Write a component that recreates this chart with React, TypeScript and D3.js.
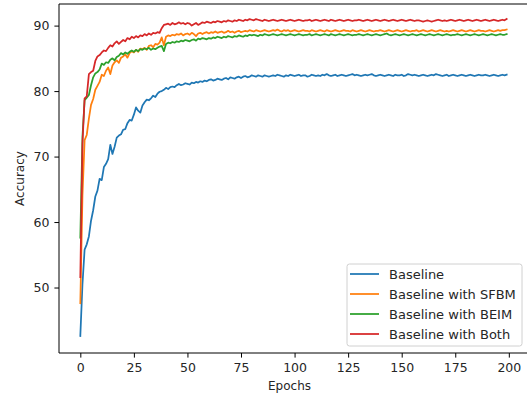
import React, { useEffect, useRef } from "react";
import * as d3 from "d3";

const seriesNames = ["Baseline", "Baseline with SFBM", "Baseline with BEIM", "Baseline with Both"];
const seriesColors = ["#1f77b4", "#ff7f0e", "#2ca02c", "#d62728"];
const xTicks = [0, 25, 50, 75, 100, 125, 150, 175, 200];
const yTicks = [50, 60, 70, 80, 90];

const baseline = [
  42.6, 50.5, 55.8, 56.6, 57.8, 60.2, 61.8, 63.9, 64.8, 66.6,
  66.4, 68.4, 68.9, 69.6, 71.8, 70.4, 71.5, 72.9, 73.2, 73.4,
  74.1, 74.2, 75.1, 75.6, 75.5, 76.4, 77.5, 77.0, 76.7, 77.8,
  78.3, 78.7, 78.6, 78.9, 79.3, 79.1, 79.6, 79.9, 80.0, 80.2,
  80.5, 80.3, 80.6, 80.7, 80.6, 80.9, 81.1, 80.9, 81.0, 81.2,
  81.1, 81.0, 81.3, 81.2, 81.4, 81.3, 81.5, 81.4, 81.6, 81.5,
  81.7, 81.8, 81.6, 81.7, 81.9, 81.8, 81.7, 81.9, 82.0, 81.8,
  82.1, 82.0, 81.9, 82.1, 82.2, 82.0, 82.2, 82.3, 82.1, 82.2,
  82.4, 82.3, 82.2, 82.4, 82.3, 82.2, 82.4, 82.3, 82.2, 82.3,
  82.4, 82.3, 82.5, 82.4, 82.3, 82.2, 82.4, 82.3, 82.5, 82.4,
  82.3, 82.4, 82.5, 82.3, 82.4, 82.4, 82.2, 82.3, 82.5, 82.4,
  82.3, 82.4, 82.3, 82.5, 82.4, 82.6, 82.4, 82.3, 82.4, 82.5,
  82.3, 82.4, 82.5, 82.4, 82.3, 82.4, 82.5, 82.6, 82.4, 82.5,
  82.4, 82.3, 82.4, 82.5, 82.4, 82.5, 82.6, 82.4, 82.3, 82.4,
  82.5, 82.4, 82.3, 82.4, 82.5, 82.4, 82.3, 82.5, 82.4, 82.4,
  82.5, 82.3, 82.4, 82.6, 82.5, 82.4, 82.5, 82.4, 82.3, 82.4,
  82.5, 82.4, 82.3, 82.4, 82.5, 82.4, 82.6, 82.5, 82.4, 82.3,
  82.4, 82.5, 82.3, 82.4, 82.5, 82.4, 82.3, 82.4, 82.5, 82.4,
  82.3, 82.4, 82.5, 82.4, 82.3, 82.4, 82.5, 82.4, 82.4, 82.5,
  82.4, 82.3, 82.4, 82.5, 82.4, 82.3, 82.4, 82.5, 82.4, 82.5,
];

const withSFBM = [
  47.6, 64.0, 72.5, 73.3, 75.8, 77.9, 78.8, 80.2, 80.8, 81.4,
  82.5, 82.3, 83.1, 83.6, 82.6, 83.9, 84.4, 84.7, 84.3, 85.1,
  85.3, 85.6, 85.1, 85.8, 86.1, 85.9, 86.3, 86.0, 86.5, 86.4,
  86.6, 86.3, 86.9, 87.0, 86.7, 87.2, 87.1, 87.4, 88.2, 87.0,
  88.3, 88.5, 88.4, 88.6, 88.5, 88.7, 88.6, 88.8, 88.5, 88.7,
  88.8, 88.6, 88.9, 88.7, 88.4, 88.8, 88.9, 88.7, 88.9, 89.0,
  88.8, 89.0, 88.9, 89.1, 88.9, 89.0, 89.1, 88.9, 89.0, 89.2,
  89.0, 89.1, 88.9, 89.1, 89.2, 89.0, 89.1, 89.2, 89.1, 89.3,
  89.2, 89.1, 89.3, 89.2, 89.1, 89.2, 89.3, 89.2, 89.1, 89.2,
  89.3, 89.2, 89.4, 89.2, 89.1, 89.3, 89.2, 89.3, 89.1, 89.2,
  89.3, 89.2, 89.1, 89.2, 89.3, 89.2, 89.2, 89.1, 89.3, 89.2,
  89.1, 89.2, 89.3, 89.2, 89.1, 89.3, 89.2, 89.1, 89.2, 89.3,
  89.2, 89.1, 89.2, 89.3, 89.2, 89.2, 89.1, 89.3, 89.2, 89.1,
  89.2, 89.3, 89.2, 89.1, 89.2, 89.3, 89.2, 89.1, 89.2, 89.2,
  89.3, 89.2, 89.1, 89.2, 89.3, 89.2, 89.1, 89.2, 89.3, 89.2,
  89.1, 89.2, 89.3, 89.2, 89.1, 89.2, 89.2, 89.3, 89.1, 89.2,
  89.3, 89.2, 89.1, 89.2, 89.3, 89.2, 89.1, 89.2, 89.3, 89.2,
  89.1, 89.2, 89.1, 89.2, 89.3, 89.2, 89.1, 89.2, 89.3, 89.2,
  89.1, 89.2, 89.3, 89.2, 89.1, 89.2, 89.3, 89.2, 89.2, 89.1,
  89.2, 89.3, 89.2, 89.1, 89.2, 89.3, 89.2, 89.3, 89.3, 89.4,
];

const withBEIM = [
  57.6, 73.0, 78.6, 79.0, 79.4, 80.9, 82.1, 82.7, 82.9, 83.3,
  84.2, 84.0, 84.4, 84.3, 84.8, 85.0, 84.7, 85.2, 85.4, 85.8,
  85.6, 85.9, 85.7, 86.0, 86.2, 86.0, 86.3, 86.1, 86.4, 86.3,
  86.5, 86.4, 86.6, 86.3, 86.5, 86.4, 86.6, 86.8, 86.9, 86.1,
  87.2, 87.4, 87.3, 87.5, 87.4, 87.6, 87.5, 87.7, 87.6, 87.8,
  87.7, 87.6, 87.8, 87.9, 87.7, 88.0, 87.9, 88.1, 88.0, 87.9,
  88.1, 88.0, 88.2, 88.1, 88.3, 88.2, 88.1, 88.3, 88.2, 88.4,
  88.3, 88.2, 88.4, 88.3, 88.5, 88.4, 88.3, 88.5, 88.4, 88.6,
  88.5, 88.6, 88.5, 88.4, 88.6, 88.5, 88.7, 88.6, 88.5, 88.6,
  88.7, 88.6, 88.5, 88.6, 88.7, 88.6, 88.5, 88.6, 88.7, 88.6,
  88.5, 88.6, 88.7, 88.6, 88.5, 88.6, 88.6, 88.7, 88.5, 88.6,
  88.7, 88.6, 88.5, 88.6, 88.7, 88.6, 88.5, 88.7, 88.6, 88.5,
  88.6, 88.7, 88.6, 88.5, 88.6, 88.7, 88.6, 88.5, 88.6, 88.6,
  88.7, 88.6, 88.5, 88.6, 88.7, 88.6, 88.5, 88.6, 88.7, 88.6,
  88.5, 88.6, 88.7, 88.8, 88.6, 88.5, 88.6, 88.7, 88.6, 88.5,
  88.6, 88.7, 88.6, 88.5, 88.6, 88.7, 88.6, 88.5, 88.6, 88.7,
  88.6, 88.5, 88.6, 88.7, 88.6, 88.5, 88.6, 88.7, 88.6, 88.5,
  88.6, 88.7, 88.6, 88.5, 88.6, 88.6, 88.7, 88.6, 88.5, 88.6,
  88.7, 88.6, 88.5, 88.6, 88.7, 88.6, 88.5, 88.6, 88.7, 88.6,
  88.5, 88.6, 88.7, 88.6, 88.5, 88.6, 88.7, 88.6, 88.6, 88.7,
];

const withBoth = [
  51.6, 72.0, 78.9, 79.2, 82.6, 82.9, 83.1, 84.6, 85.3, 85.5,
  85.9, 86.2, 86.1, 86.6, 87.0, 86.8, 87.3, 87.6, 87.2, 87.5,
  87.8, 87.6, 88.1, 87.9, 88.3, 88.1, 88.4, 88.2, 88.5, 88.4,
  88.7, 88.5, 88.8, 88.6, 88.9, 88.8, 89.0, 88.9, 89.6, 90.1,
  90.2, 90.3, 90.1, 90.4, 90.2, 90.3, 90.5, 90.3, 90.4, 90.2,
  90.4, 90.3, 90.0, 90.2, 90.4, 90.1, 90.3, 90.5, 90.4, 90.6,
  90.5, 90.4, 90.6, 90.5, 90.7, 90.6, 90.5, 90.7, 90.6, 90.8,
  90.7, 90.6, 90.8, 90.7, 90.9, 90.8, 90.7, 90.9, 90.8, 91.0,
  90.9, 90.8, 91.0, 90.9, 90.8, 90.7, 90.9, 90.8, 90.7, 90.8,
  90.9, 90.8, 90.7, 90.8, 90.9, 90.8, 90.7, 90.8, 90.9, 90.8,
  90.7, 90.8, 90.9, 90.8, 90.7, 90.8, 90.8, 90.9, 90.7, 90.8,
  90.9, 90.8, 90.7, 90.8, 90.9, 90.8, 90.7, 90.9, 90.8, 90.7,
  90.8, 90.9, 90.8, 90.7, 90.8, 90.9, 90.8, 90.7, 90.8, 90.8,
  90.9, 90.8, 90.7, 90.8, 90.9, 90.8, 90.7, 90.8, 90.9, 90.8,
  90.7, 90.8, 90.9, 90.8, 90.7, 90.8, 90.9, 90.8, 90.7, 90.8,
  90.9, 90.8, 90.7, 90.8, 90.9, 90.8, 90.7, 90.8, 90.8, 90.7,
  90.6, 90.7, 90.8, 90.7, 90.6, 90.7, 90.8, 90.9, 90.8, 90.7,
  90.8, 90.7, 90.8, 90.9, 90.8, 90.7, 90.8, 90.9, 90.8, 90.7,
  90.8, 90.9, 90.8, 90.7, 90.8, 90.9, 90.8, 90.7, 90.8, 90.9,
  90.8, 90.7, 90.8, 90.9, 90.8, 90.7, 90.8, 90.9, 90.8, 91.0,
];

const allSeries = [baseline, withSFBM, withBEIM, withBoth];

const WIDTH = 527;
const HEIGHT = 398;
const FONT = "'DejaVu Sans', sans-serif";

function AccuracyChart() {
  const ref = useRef<SVGSVGElement>(null);

  useEffect(() => {
    const svg = d3.select(ref.current);
    svg.selectAll("*").remove();

    const left = 59, right = 528, top = 4, bottom = 353;

    const x = d3.scaleLinear().domain([-9.95, 208.95]).range([left, right]);
    const y = d3.scaleLinear().domain([40.0, 93.3]).range([bottom, top]);

    const plot = svg.append("g");

    const line = d3.line<number>()
      .x((d, i) => x(i))
      .y(d => y(d));

    allSeries.forEach((values, k) => {
      plot.append("path")
        .datum(values)
        .attr("fill", "none")
        .attr("stroke", seriesColors[k])
        .attr("stroke-width", 1.75)
        .attr("stroke-linejoin", "round")
        .attr("stroke-linecap", "square")
        .attr("d", line);
    });

    // axes
    const xAxis = svg.append("g")
      .attr("transform", `translate(0,${bottom})`)
      .call(d3.axisBottom(x).tickValues(xTicks).tickSize(4.6).tickPadding(6).tickFormat(d3.format("d")));
    const yAxis = svg.append("g")
      .attr("transform", `translate(${left},0)`)
      .call(d3.axisLeft(y).tickValues(yTicks).tickSize(4.6).tickPadding(5).tickFormat(d3.format("d")));

    [xAxis, yAxis].forEach(ax => {
      ax.select(".domain").remove();
      ax.selectAll("line").attr("stroke", "#000").attr("stroke-width", 1);
      ax.selectAll("text")
        .attr("fill", "#262626")
        .style("font-family", FONT)
        .style("font-size", "12.5px");
    });

    // spines
    const spines = [
      [left, top, left, bottom],
      [left, bottom, right, bottom],
      [left, top, right, top],
      [right, top, right, bottom],
    ];
    spines.forEach(([x1, y1, x2, y2]) => {
      svg.append("line")
        .attr("x1", x1).attr("y1", y1).attr("x2", x2).attr("y2", y2)
        .attr("stroke", "#000").attr("stroke-width", 1);
    });

    svg.append("text")
      .attr("x", (left + right) / 2 - 4)
      .attr("y", 390)
      .attr("text-anchor", "middle")
      .attr("fill", "#262626")
      .style("font-family", FONT)
      .style("font-size", "12px")
      .text("Epochs");

    svg.append("text")
      .attr("transform", `translate(19.5,${(top + bottom) / 2}) rotate(-90)`)
      .attr("text-anchor", "middle")
      .attr("dy", "0.36em")
      .attr("fill", "#262626")
      .style("font-family", FONT)
      .style("font-size", "12px")
      .text("Accuracy");

    // legend
    const lg = svg.append("g").attr("transform", "translate(347,264)");
    lg.append("rect")
      .attr("width", 175)
      .attr("height", 82)
      .attr("rx", 2.5)
      .attr("fill", "#fff")
      .attr("fill-opacity", 0.8)
      .attr("stroke", "#d0d0d0")
      .attr("stroke-width", 1);

    seriesNames.forEach((name, k) => {
      const cy = 10 + k * 20;
      lg.append("line")
        .attr("x1", 3).attr("x2", 32)
        .attr("y1", cy).attr("y2", cy)
        .attr("stroke", seriesColors[k])
        .attr("stroke-width", 1.75);
      lg.append("text")
        .attr("x", 42)
        .attr("y", cy)
        .attr("dy", "0.36em")
        .attr("fill", "#262626")
        .style("font-family", FONT)
        .style("font-size", "13px")
        .text(name);
    });
  }, []);

  return (
    <svg
      ref={ref}
      width={WIDTH}
      height={HEIGHT}
      style={{ position: "absolute", left: 0, top: 0, background: "#fff" }}
    />
  );
}

export default function App() {
  return <AccuracyChart />;
}
